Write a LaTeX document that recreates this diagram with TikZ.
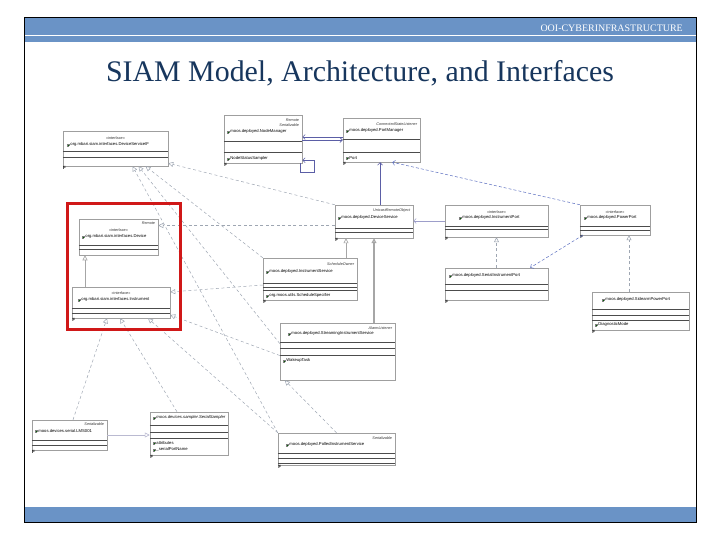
\documentclass[tikz,border=0pt]{standalone}
\usepackage{fontspec}
\setmainfont{Liberation Serif}
\setsansfont{Liberation Sans}
\usetikzlibrary{arrows.meta,calc,shadows}
\definecolor{barblue}{HTML}{6A93C6}
\definecolor{titleblue}{HTML}{17365D}
\definecolor{assocblue}{HTML}{5B5EA6}
\definecolor{depblue}{HTML}{5C6FC0}
\definecolor{dashgray}{HTML}{9EA6B2}
\definecolor{hilite}{HTML}{D01818}
\tikzset{
  cls/.style={draw=gray!75,fill=white,line width=0.5bp,inner sep=0pt,drop shadow={shadow xshift=1.3bp,shadow yshift=-1.3bp,fill=black!65,opacity=0.9}},
  stereo/.style={font=\fontsize{3.8}{4}\selectfont\sffamily,inner sep=0pt,text=black!80},
  stereoR/.style={stereo,anchor=east,font=\fontsize{3.8}{4}\selectfont\sffamily\itshape},
  cname/.style={font=\fontsize{4.2}{5}\selectfont\sffamily,inner sep=0pt,anchor=west},
  finmark/.style={font=\fontsize{4.5}{4.5}\selectfont\sffamily\bfseries,inner sep=0.3bp,anchor=north west},
  divider/.style={draw=black!70,line width=0.5bp},
  gen/.style={-{Triangle[open,length=5bp,width=5bp]},draw=gray!70,line width=0.6bp},
  realize/.style={gen,draw=dashgray,dash pattern=on 3bp off 2.5bp,line width=0.5bp},
  assoc/.style={-{Straight Barb[length=2.5bp,width=5bp]},draw=assocblue,line width=0.6bp},
  dep/.style={assoc,draw=depblue,dash pattern=on 3bp off 2bp,line width=0.5bp},
}
\newcommand{\clsic}{\textcolor{gray}{\fboxsep=0pt\fboxrule=0.25pt\fbox{\textcolor{green!40!black}{\rule{2pt}{2pt}}}}\hspace{1pt}}
\newcommand{\divs}[2]{\foreach \dy in {#2} \draw[divider] ($(#1.north west)+(0,\dy)$) -- ($(#1.north east)+(0,\dy)$);}

\begin{document}
\begin{tikzpicture}[x=1bp,y=-1bp]
\useasboundingbox (0,0) rectangle (720,540);
% slide frame
\fill[barblue] (24,18) rectangle (696,42);
\draw[white,line width=1bp] (24,35.8) -- (696,35.8);
\fill[barblue] (24,507) rectangle (696,522);
\draw[line width=1bp] (24,18) rectangle (696,522);
\node[anchor=base east,text=white,font=\fontsize{10}{10}\selectfont,inner sep=0pt] (hdr) at (683,31.5) {OOI-CYBERINFRASTRUCTURE};
\node[anchor=base,text=titleblue,font=\fontsize{30}{30}\selectfont,inner sep=0pt] (title) at (360,81.7) {SIAM Model, Architecture, and Interfaces};

% classes, top row
\node[cls,minimum width=105bp,minimum height=35bp] (iface) at (115.5,148.5) {};
\node[stereo] (iface-s) at ($(iface.north)+(0,7)$) {«interface»};
\node[cname] (iface-n) at ($(iface.north west)+(4,14)$) {\clsic org.mbari.siam.interfaces.DeviceServiceIF};
\divs{iface}{21,27}

\node[cls,minimum width=78bp,minimum height=48bp] (nodemgr) at (263,139) {};
\node[stereoR] (nodemgr-s1) at ($(nodemgr.north east)+(-3,5)$) {Remote};
\node[stereoR] (nodemgr-s2) at ($(nodemgr.north east)+(-3,10)$) {Serializable};
\node[cname] (nodemgr-n) at ($(nodemgr.north west)+(3,17)$) {\clsic moos.deployed.NodeManager};
\divs{nodemgr}{27,38}
\node[cname] (nodemgr-a) at ($(nodemgr.north west)+(3,44)$) {\clsic NodeStatusSampler};

\node[cls,minimum width=77bp,minimum height=44bp] (portmgr) at (381.5,140) {};
\node[stereoR] (portmgr-s) at ($(portmgr.north east)+(-3,6)$) {ConnectedStateListener};
\node[cname] (portmgr-n) at ($(portmgr.north west)+(3,13)$) {\clsic moos.deployed.PortManager};
\divs{portmgr}{22,35}
\node[cname] (portmgr-a) at ($(portmgr.north west)+(3,40)$) {\clsic Port};

% classes, inside the highlight
\node[cls,minimum width=79bp,minimum height=36bp] (device) at (118.5,237) {};
\node[stereoR] (device-r) at ($(device.north east)+(-3,4)$) {Remote};
\node[stereo] (device-s) at ($(device.north)+(0,11)$) {«interface»};
\node[cname] (device-n) at ($(device.north west)+(3,18)$) {\clsic org.mbari.siam.interfaces.Device};
\divs{device}{27,31}

\node[cls,minimum width=98bp,minimum height=31bp] (instr) at (121,302.5) {};
\node[stereo] (instr-s) at ($(instr.north)+(0,6)$) {«interface»};
\node[cname] (instr-n) at ($(instr.north west)+(6,13)$) {\clsic org.mbari.siam.interfaces.Instrument};
\divs{instr}{21,26}

% services
\node[cls,minimum width=78bp,minimum height=33bp] (devsvc) at (374,221.5) {};
\node[stereoR] (devsvc-s) at ($(devsvc.north east)+(-3,6)$) {UnicastRemoteObject};
\node[cname] (devsvc-n) at ($(devsvc.north west)+(3,13)$) {\clsic moos.deployed.DeviceService};
\divs{devsvc}{24,28}

\node[cls,minimum width=94bp,minimum height=42bp] (instsvc) at (310,279) {};
\node[stereoR] (instsvc-s) at ($(instsvc.north east)+(-3,6)$) {ScheduleOwner};
\node[cname] (instsvc-n) at ($(instsvc.north west)+(3,14)$) {\clsic moos.deployed.InstrumentService};
\divs{instsvc}{25,29,32}
\node[cname] (instsvc-a) at ($(instsvc.north west)+(3,38)$) {\clsic org.moos.utils.ScheduleSpecifier};

\node[cls,minimum width=115bp,minimum height=57bp] (streamsvc) at (337.5,351.5) {};
\node[stereoR] (streamsvc-s) at ($(streamsvc.north east)+(-3,5)$) {AlarmListener};
\node[cname] (streamsvc-n) at ($(streamsvc.north west)+(8,11)$) {\clsic moos.deployed.StreamingInstrumentService};
\divs{streamsvc}{19,25,32}
\node[cname] (streamsvc-a) at ($(streamsvc.north west)+(3,38)$) {\clsic WakeupTask};

\node[cls,minimum width=117bp,minimum height=32bp] (polled) at (336.5,449) {};
\node[stereoR] (polled-s) at ($(polled.north east)+(-3,5)$) {Serializable};
\node[cname] (polled-n) at ($(polled.north west)+(8,12)$) {\clsic moos.deployed.PolledInstrumentService};
\divs{polled}{20,25,30}

% ports
\node[cls,minimum width=103bp,minimum height=32bp] (instport) at (496.5,221) {};
\node[stereo] (instport-s) at ($(instport.north)+(0,7)$) {«interface»};
\node[cname] (instport-n) at ($(instport.north west)+(14,13)$) {\clsic moos.deployed.InstrumentPort};
\divs{instport}{22,25}

\node[cls,minimum width=70bp,minimum height=30bp] (powerport) at (615,220) {};
\node[stereo] (powerport-s) at ($(powerport.north)+(0,7)$) {«interface»};
\node[cname] (powerport-n) at ($(powerport.north west)+(4,13)$) {\clsic moos.deployed.PowerPort};
\divs{powerport}{22,26}

\node[cls,minimum width=103bp,minimum height=32bp] (serialport) at (496.5,284) {};
\node[cname] (serialport-n) at ($(serialport.north west)+(4,8)$) {\clsic moos.deployed.SerialInstrumentPort};
\divs{serialport}{16,22}

\node[cls,minimum width=97bp,minimum height=38bp] (sidearm) at (640.5,311) {};
\node[cname] (sidearm-n) at ($(sidearm.north west)+(10,8)$) {\clsic moos.deployed.SidearmPowerPort};
\divs{sidearm}{17,23,28}
\node[cname] (sidearm-a) at ($(sidearm.north west)+(3,33)$) {\clsic DiagnosticMode};

% devices, bottom left
\node[cls,minimum width=75bp,minimum height=30bp] (sensbox) at (69.5,435) {};
\node[stereoR] (sensbox-s) at ($(sensbox.north east)+(-3,4)$) {Serializable};
\node[cname] (sensbox-n) at ($(sensbox.north west)+(3,11)$) {\clsic moos.devices.serial.LMS001};
\divs{sensbox}{20,25}

\node[cls,minimum width=78bp,minimum height=43bp] (sampler) at (189,433.5) {};
\node[cname,font=\fontsize{4.2}{5}\selectfont\sffamily\itshape] (sampler-n) at ($(sampler.north west)+(3,6)$) {\clsic moos.devices.sampler.SerialSampler};
\divs{sampler}{13,20,26}
\node[cname] (sampler-a1) at ($(sampler.north west)+(3,31)$) {\clsic attributes};
\node[cname] (sampler-a2) at ($(sampler.north west)+(3,38)$) {\clsic \_serialPortName};

\foreach \b in {iface,nodemgr,portmgr,instr,devsvc,instsvc,polled,instport,powerport,serialport,sidearm,sensbox,sampler}
  \node[finmark] (\b-f) at (\b.south west) {F};

% associations
\path ([yshift=2bp]nodemgr.east) coordinate (nm-a) ([yshift=-1bp]nodemgr.east) coordinate (nm-b);
\draw[assoc] (nm-a -| portmgr.west) -- (nm-a);
\draw[assoc] (nm-b) -- (nm-b -| portmgr.west);
\draw[assoc] ([xshift=-2bp]nodemgr.south east) |- ++(14,9) |- ([yshift=3bp]nodemgr.south east);
\path ([xshift=6bp]devsvc.north) coordinate (ds-up);
\draw[assoc] (ds-up) -- (ds-up |- portmgr.south);
\draw[assoc,draw=assocblue!60] (instport.west) -- (instport.west -| devsvc.east);
\draw[dep] (powerport.north west) -- ([xshift=-28bp]portmgr.south east);
\draw[dep] ([xshift=3bp]powerport.south west) -- ([xshift=-18bp]serialport.north east);

% generalisations
\path ([xshift=-36bp]instr.north) coordinate (in-up);
\draw[gen] (in-up) -- (in-up |- device.south);
\path ([xshift=36bp]instsvc.north) coordinate (is-up);
\draw[gen] (is-up) -- (is-up |- devsvc.south);
\draw[gen,line width=1.2bp] (devsvc.south |- streamsvc.north) -- (devsvc.south);
\draw[gen,draw=blue!20!gray!45] (sensbox.east) -- (sensbox.east -| sampler.west);

% realisations
\path ([yshift=-4bp]devsvc.west) coordinate (ds-l);
\draw[realize] (ds-l) -- (ds-l -| device.east);
\draw[realize] (serialport.north) -- (instport.south);
\path ([xshift=-11.5bp]sidearm.north) coordinate (sp-up);
\draw[realize] (sp-up) -- (sp-up |- powerport.south);
\draw[realize] (devsvc.north west) -- ([yshift=3bp]iface.south east);
\draw[realize] (instsvc.north west) -- ([xshift=30bp]iface.south);
\draw[realize] ([yshift=8bp]streamsvc.west) -- ([xshift=23bp]iface.south);
\draw[realize] (polled.north west) -- ([xshift=17bp]iface.south);
\draw[realize] ([yshift=-6bp]instsvc.west) -- ([yshift=10.5bp]instr.east);
\draw[realize] ([yshift=-4bp]streamsvc.west) -- ([yshift=-12.5bp]instr.east);
\draw[realize] ([xshift=3.5bp]sensbox.north) -- ([xshift=-14bp]instr.south);
\draw[realize] ([xshift=-12bp]sampler.north) -- ([xshift=-1bp]instr.south);
\draw[realize] (polled.north west) -- ([xshift=27bp]instr.south);
\draw[realize] (polled.north) -- ([xshift=5bp]streamsvc.south west);

% highlight
\draw[hilite,line width=3bp] (67.5,204) rectangle (180.5,329);
\end{tikzpicture}
\end{document}
